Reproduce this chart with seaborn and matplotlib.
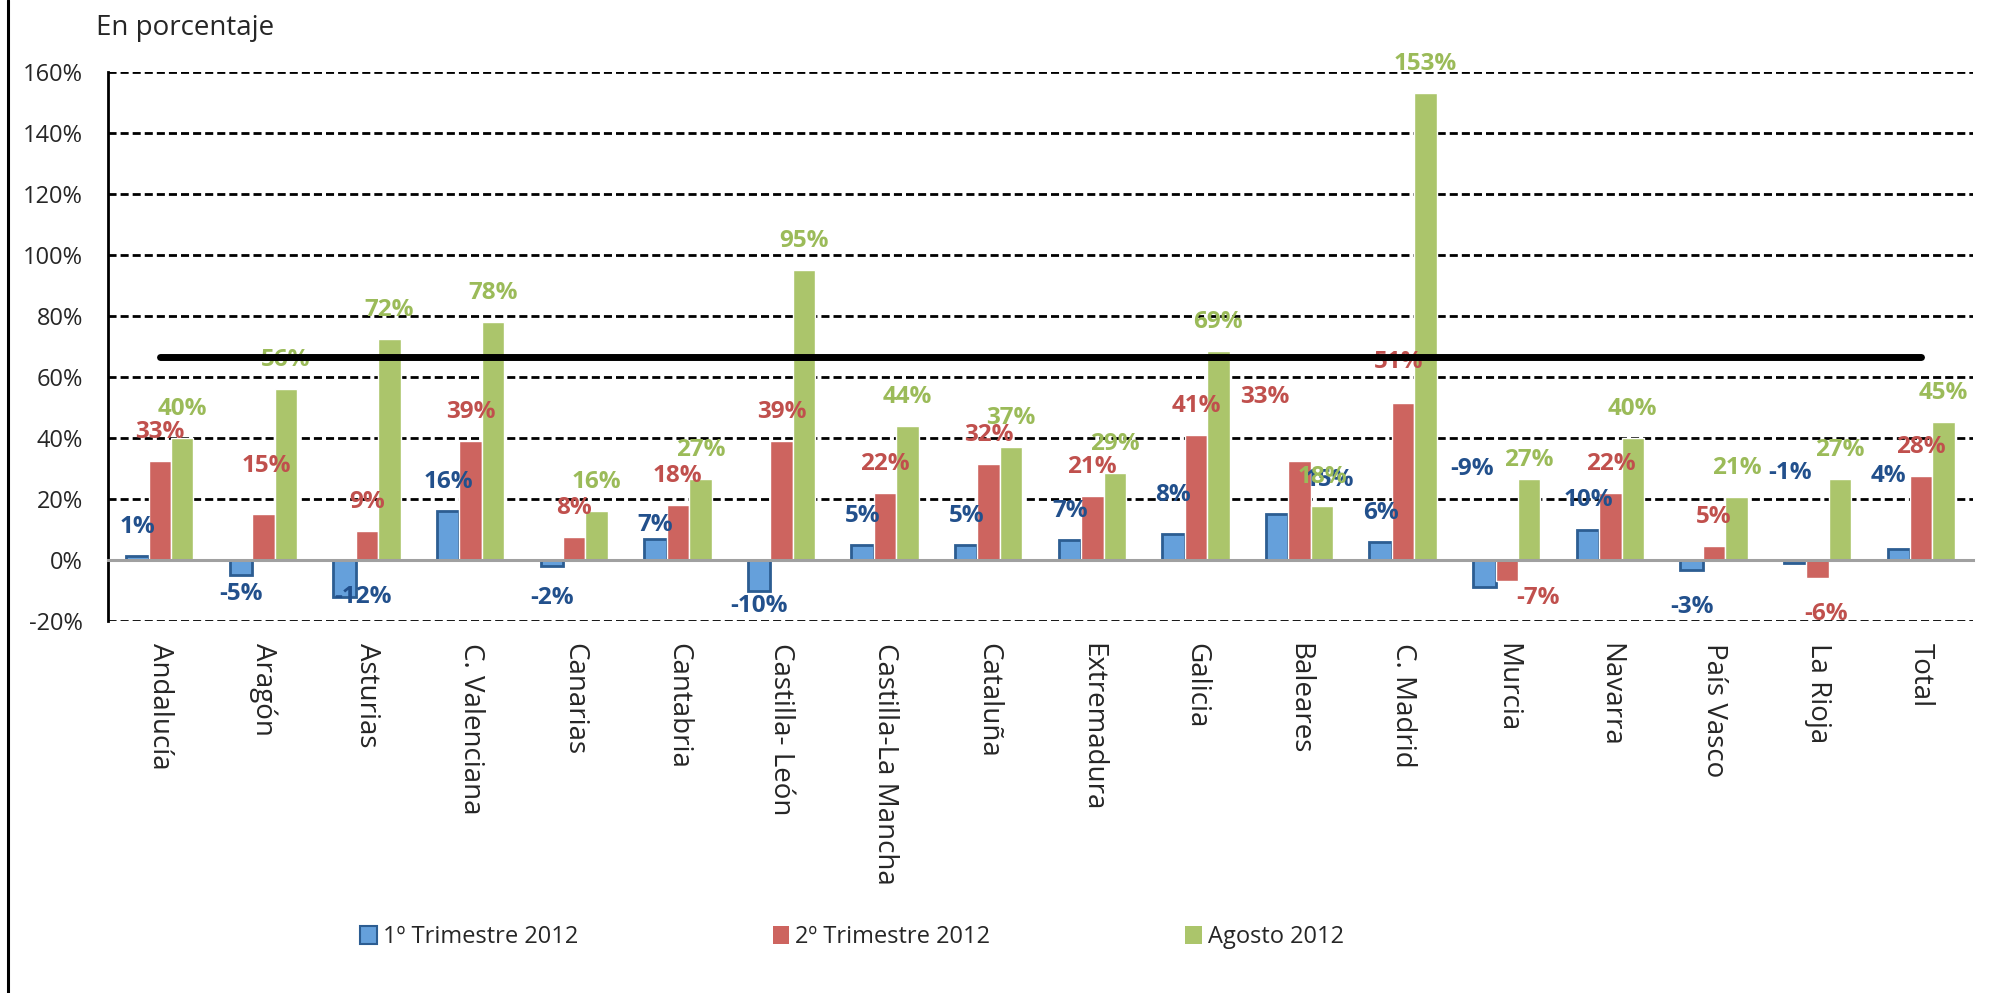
import numpy as np
import pandas as pd
import seaborn as sns
import matplotlib.pyplot as plt
from matplotlib.lines import Line2D
from matplotlib.patches import Patch

# ---------------- data ----------------
categories = ["Andalucía", "Aragón", "Asturias", "C. Valenciana", "Canarias", "Cantabria",
              "Castilla- León", "Castilla-La Mancha", "Cataluña", "Extremadura", "Galicia",
              "Baleares", "C. Madrid", "Murcia", "Navarra", "País Vasco", "La Rioja", "Total"]
series_names = ["1º Trimestre 2012", "2º Trimestre 2012", "Agosto 2012"]
trim1 = [1.3, -5, -12, 16, -2, 7, -10, 5, 5, 6.6, 8.4, 15, 6, -9, 10, -3.4, -1, 3.6]
trim2 = [32.6, 15, 9.4, 39, 7.6, 18, 39, 22, 31.6, 21, 41, 32.6, 51.4, -7, 22, 4.6, -6, 27.6]
agosto = [40, 56, 72.5, 78, 16, 26.6, 95, 44, 37, 28.6, 68.6, 17.6, 153, 26.6, 40, 20.6, 26.6, 45.4]
reference_level = 66.6
y_ticks = [-20, 0, 20, 40, 60, 80, 100, 120, 140, 160]
y_title = "En porcentaje"

# ---------------- style ----------------
bar_colors = ["#65A0DB", "#CD645F", "#ABC56B"]
label_colors = ["#22508C", "#C0504D", "#9BBB59"]
blue_edge = "#2C5D92"

# manual label displacements (px): (dx, dy up)
label_shift = {
    (1, 1): (3, 19), (0, 5): (0, -15), (0, 10): (0, 10), (0, 11): (52, 5),
    (1, 11): (-35, 35), (1, 12): (-5, 12), (2, 13): (0, -10), (0, 17): (-10, 44),
    (0, 1): (0, 3), (0, 2): (18, 22), (0, 4): (0, -10), (0, 6): (0, 6),
    (1, 13): (31, 5), (0, 15): (0, -15), (1, 16): (8, -14),
}
label_above = {(0, 13): (-12, 89.5), (0, 16): (-5, 61)}

sns.set_style("white")
plt.rcParams["font.family"] = ["Open Sans", "DejaVu Sans"]

W, H = 1992, 993
fig = plt.figure(figsize=(W / 100, H / 100), dpi=100)
ax = fig.add_axes([108 / W, 1 - 621 / H, (1973 - 108) / W, (621 - 72) / H])

df = pd.DataFrame({
    "region": categories * 3,
    "serie": [s for s in series_names for _ in categories],
    "valor": trim1 + trim2 + agosto,
})
sns.barplot(data=df, x="region", y="valor", hue="serie", order=categories,
            hue_order=series_names, palette=bar_colors, width=0.65, saturation=1,
            legend=False, ax=ax, zorder=3)

for patch in ax.containers[0]:
    patch.set_edgecolor(blue_edge)
    patch.set_linewidth(2.0)

ax.set_xlim(-0.5, len(categories) - 0.5)
ax.set_ylim(-20, 160)
ax.set_yticks(y_ticks)
ax.set_yticklabels([f"{v}%" for v in y_ticks], fontsize=17)
ax.set_xlabel("")
ax.set_ylabel("")

ax.set_axisbelow(True)
ax.yaxis.grid(True, color="black", linewidth=2, linestyle=(0, (2.9, 1.45)))
ax.xaxis.grid(False)

for s in ["top", "right"]:
    ax.spines[s].set_visible(False)
ax.spines["left"].set_color("black")
ax.spines["left"].set_linewidth(2)
ax.spines["bottom"].set_position(("data", 0))
ax.spines["bottom"].set_color("#A0A0A0")
ax.spines["bottom"].set_linewidth(2.2)
ax.spines["bottom"].set_zorder(6)

ax.tick_params(axis="y", direction="out", length=5, width=2, color="black", pad=13)
ax.tick_params(axis="x", which="major", length=0, pad=60, labelsize=20)
ax.set_xticks(np.arange(-0.5, len(categories), 3), minor=True)
ax.tick_params(axis="x", which="minor", direction="out", length=6, width=2, color="#A0A0A0")
for lab in ax.get_xticklabels():
    lab.set_rotation(-90)
    lab.set_ha("center")
    lab.set_va("top")

# reference line
ax.plot([0, len(categories) - 1], [reference_level, reference_level], color="black",
        linewidth=5, solid_capstyle="round", zorder=10)

# data labels
px = 0.72
for si, (cont, vals) in enumerate(zip(ax.containers, [trim1, trim2, agosto])):
    for ci, (bar, v) in enumerate(zip(cont, vals)):
        x = bar.get_x() + bar.get_width() / 2
        txt = f"{int(np.round(v))}%"
        if (si, ci) in label_above:
            dx, dy = label_above[(si, ci)]
            off = (dx * px, (23 + dy) * px)
            va = "baseline"
        elif v >= 0:
            dx, dy = label_shift.get((si, ci), (0, 0))
            off = (dx * px, (23 + dy) * px)
            va = "baseline"
        else:
            dx, dy = label_shift.get((si, ci), (0, 0))
            off = (dx * px, (-10 + dy) * px)
            va = "top"
        ax.annotate(txt, xy=(x, v), xytext=off, textcoords="offset points",
                    ha="center", va=va, fontsize=17.5, fontweight="bold",
                    color=label_colors[si], zorder=5)

# title text
fig.text(96 / W, 1 - 35 / H, y_title, fontsize=20, ha="left", va="baseline")

# left border line
fig.add_artist(Line2D([8 / W, 8 / W], [0, 1], transform=fig.transFigure,
                      color="black", linewidth=2.2))

# legend
handles = [Patch(facecolor=bar_colors[0], edgecolor=blue_edge, linewidth=1.5),
           Patch(facecolor=bar_colors[1], edgecolor="none"),
           Patch(facecolor=bar_colors[2], edgecolor="none")]
fig.legend(handles, series_names, loc="center", bbox_to_anchor=(852 / W, 1 - 937 / H),
           ncol=3, frameon=False, fontsize=17, columnspacing=8.26,
           handlelength=0.7, handleheight=0.8, handletextpad=0.25)

fig.savefig("out.png", dpi=100)
